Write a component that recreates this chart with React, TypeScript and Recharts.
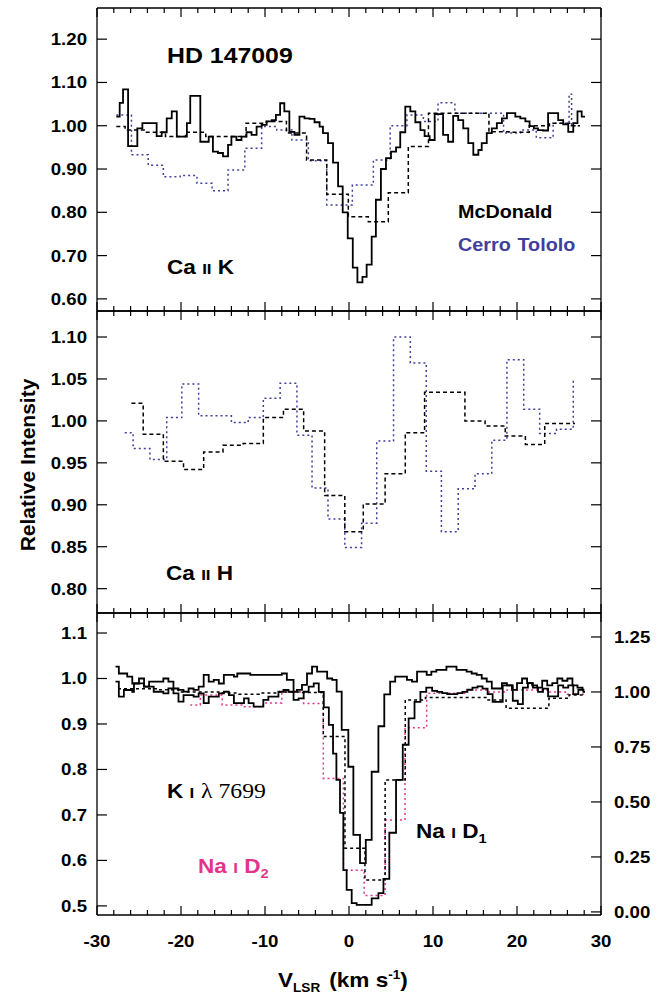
import React from 'react';
import { LineChart, Line, XAxis, YAxis } from 'recharts';

type Pt = [number, number];

// Ca II K, McDonald fine bins (solid)
const caKMcd: Pt[] = [
  [-27.7, 1.021], [-27.3, 1.053], [-26.9, 1.084], [-26.3, 0.953], [-25.2, 0.994], [-24.6, 1.006],
  [-22.9, 0.976], [-22.3, 0.985], [-21.7, 1.017], [-21.1, 1.033], [-20.5, 0.975], [-19.3, 1.006],
  [-18.9, 1.069], [-17.7, 0.963], [-16.7, 0.975], [-16.2, 0.94], [-15.6, 0.937], [-15.0, 0.929],
  [-14.4, 0.956], [-14.0, 0.975], [-13.4, 0.967], [-12.8, 0.975], [-12.2, 0.985], [-11.6, 0.979],
  [-11.0, 0.998], [-10.4, 1.002], [-9.8, 1.01], [-9.2, 1.013], [-8.7, 1.025], [-8.2, 1.052],
  [-7.7, 1.033], [-7.1, 0.986], [-6.5, 0.979], [-5.9, 1.021], [-5.3, 1.017], [-4.7, 1.016],
  [-4.1, 1.008], [-3.5, 0.998], [-3.1, 0.983], [-2.5, 0.96], [-1.9, 0.915], [-1.3, 0.86],
  [-0.75, 0.8], [-0.15, 0.74], [0.45, 0.672], [1.0, 0.638], [1.6, 0.651], [2.1, 0.679],
  [2.7, 0.744], [3.2, 0.829], [3.8, 0.9], [4.4, 0.925], [5.0, 0.94], [5.6, 0.95], [6.1, 0.985],
  [6.7, 1.044], [7.3, 1.033], [7.9, 1.008], [8.5, 0.99], [9.0, 0.976], [9.6, 0.967], [10.2, 1.027],
  [11.2, 0.979], [11.8, 0.963], [12.4, 1.023], [13.0, 1.013], [13.6, 0.994], [14.2, 0.96],
  [14.8, 0.933], [15.4, 0.944], [15.8, 0.96], [16.4, 0.983], [17.0, 0.994], [17.6, 1.006],
  [18.2, 1.017], [18.8, 1.029], [19.8, 1.021], [20.4, 1.017], [21.0, 1.01], [21.5, 0.999],
  [22.0, 0.994], [22.5, 0.99], [23.1, 0.989], [23.7, 1.029], [24.9, 1.013], [25.5, 1.003],
  [26.1, 0.986], [26.7, 1.006], [27.2, 1.033], [27.7, 1.021], [28.1, 1.021],
];

// Ca II K, McDonald coarse bins (dashed)
const caKMcdLo: Pt[] = [
  [-27.7, 0.998], [-26.65, 0.99], [-24.25, 0.985], [-21.85, 0.975], [-19.45, 0.985], [-17.05, 0.975],
  [-14.65, 0.975], [-12.25, 1.006], [-9.85, 1.01], [-7.45, 0.983], [-5.05, 0.921], [-2.65, 0.842],
  [-0.08, 0.79], [2.3, 0.778], [4.68, 0.845], [7.06, 0.952], [9.46, 1.029], [11.86, 1.029],
  [14.26, 1.029], [16.66, 0.986], [19.06, 0.985], [21.46, 1.0], [23.86, 1.006], [26.26, 1.0], [27.5, 1.0],
];

// Ca II K, Cerro Tololo (blue dotted)
const caKCtio: Pt[] = [
  [-27.7, 1.025], [-25.9, 0.933], [-23.9, 0.909], [-22.1, 0.882], [-20.1, 0.885], [-18.1, 0.867],
  [-16.3, 0.85], [-14.4, 0.898], [-12.4, 0.948], [-10.4, 0.998], [-8.6, 0.99], [-6.8, 0.967],
  [-4.84, 0.919], [-2.65, 0.817], [0.4, 0.863], [2.9, 0.921], [4.9, 1.0], [6.9, 1.025], [8.85, 1.01],
  [10.6, 1.053], [12.6, 1.029], [14.5, 1.029], [16.5, 1.029], [18.4, 0.983], [20.4, 0.99],
  [22.3, 0.972], [24.3, 1.006], [26.2, 1.073], [26.5, 1.0], [27.3, 1.0],
];

// Ca II H, McDonald (dashed)
const caHMcd: Pt[] = [
  [-25.9, 1.021], [-24.5, 0.984], [-22.1, 0.952], [-19.7, 0.942], [-17.3, 0.963], [-15.0, 0.971],
  [-12.6, 0.973], [-10.2, 1.004], [-7.8, 1.014], [-5.4, 0.988], [-2.9, 0.911], [-0.5, 0.868],
  [1.7, 0.901], [4.3, 0.937], [6.7, 0.986], [9.0, 1.034], [13.8, 1.0], [16.2, 0.994], [18.6, 0.982],
  [21.0, 0.972], [23.3, 0.997], [26.9, 0.997],
];

// Ca II H, Cerro Tololo (blue dotted)
const caHCtio: Pt[] = [
  [-26.7, 0.986], [-25.7, 0.967], [-23.7, 0.954], [-21.7, 1.004], [-19.9, 1.044], [-17.9, 1.006],
  [-14.0, 0.998], [-12.0, 1.004], [-10.2, 1.027], [-8.2, 1.045], [-6.2, 0.983], [-4.4, 0.92],
  [-2.5, 0.883], [-0.5, 0.849], [1.5, 0.878], [3.3, 0.976], [5.3, 1.1], [7.3, 1.069], [9.2, 0.94],
  [11.0, 0.868], [13.0, 0.919], [15.0, 0.937], [17.0, 0.977], [18.8, 1.073], [20.8, 1.014],
  [22.7, 0.985], [24.7, 0.99], [26.7, 1.049],
];

// K I 7699 (left scale, solid)
const kI: Pt[] = [
  [-27.8, 1.026], [-27.4, 1.011], [-26.4, 1.004], [-25.8, 0.989], [-25.0, 1.0], [-24.4, 0.982],
  [-23.8, 0.993], [-22.1, 1.0], [-21.5, 0.993], [-20.9, 0.978], [-20.3, 0.975], [-19.7, 0.971],
  [-19.1, 0.978], [-18.5, 0.975], [-17.9, 0.982], [-17.3, 1.008], [-16.7, 0.993], [-16.1, 0.997],
  [-15.5, 0.989], [-14.9, 1.008], [-13.7, 1.004], [-13.3, 1.011], [-11.75, 1.008], [-8.0, 1.011],
  [-7.4, 0.997], [-6.6, 0.971], [-6.2, 0.975], [-5.6, 0.986], [-5.0, 1.011], [-4.4, 1.026],
  [-3.8, 1.015], [-2.6, 1.0], [-2.0, 0.997], [-1.47, 0.971], [-0.87, 0.887], [-0.08, 0.806],
  [0.52, 0.656], [1.31, 0.594], [2.0, 0.645], [2.7, 0.795], [3.5, 0.895], [4.2, 0.965], [4.9, 0.993],
  [5.5, 1.004], [6.9, 0.997], [7.5, 0.993], [8.1, 1.015], [9.25, 1.008], [9.8, 1.015], [10.4, 1.019],
  [11.6, 1.026], [12.8, 1.019], [14.0, 1.015], [14.6, 1.011], [15.2, 1.008], [15.8, 1.0], [16.4, 0.993],
  [17.0, 0.978], [18.2, 0.99], [18.8, 0.985], [19.4, 0.975], [20.0, 0.99], [20.6, 1.0], [21.2, 0.99],
  [21.8, 0.985], [22.4, 0.98], [23.0, 0.995], [23.6, 0.985], [24.2, 0.99], [24.8, 1.0], [25.4, 0.995],
  [26.0, 1.0], [26.6, 0.985], [27.2, 0.98], [27.8, 0.975], [28.0, 0.975],
];

// Na I D1, fine bins (right scale, solid)
const naD1: Pt[] = [
  [-27.8, 1.047], [-27.4, 0.979], [-26.8, 1.009], [-25.8, 1.001], [-25.6, 1.039], [-24.4, 1.024],
  [-23.25, 1.001], [-22.1, 0.994], [-21.5, 1.016], [-20.9, 0.994], [-20.3, 0.956], [-19.7, 0.986],
  [-18.5, 0.979], [-17.9, 0.994], [-17.3, 0.949], [-16.7, 0.979], [-15.5, 0.994], [-14.9, 1.001],
  [-14.3, 0.986], [-13.7, 0.949], [-12.5, 0.971], [-11.95, 0.949], [-11.35, 0.933], [-10.2, 0.964],
  [-9.6, 0.979], [-8.4, 1.001], [-7.8, 1.009], [-7.2, 1.001], [-6.6, 0.964], [-6.0, 0.971],
  [-5.4, 1.001], [-4.8, 1.024], [-4.2, 1.039], [-3.6, 1.0], [-3.0, 0.93], [-2.4, 0.85], [-1.9, 0.72],
  [-1.5, 0.6], [-1.07, 0.45], [-0.67, 0.19], [-0.28, 0.1], [0.32, 0.04], [0.91, 0.032], [2.7, 0.062],
  [3.5, 0.085], [4.1, 0.15], [4.8, 0.36], [5.6, 0.6], [6.4, 0.76], [7.1, 0.88], [7.8, 0.955],
  [8.5, 1.0], [9.2, 1.02], [9.9, 1.005], [10.5, 1.0], [11.1, 0.995], [11.7, 0.99], [12.9, 0.995],
  [13.5, 1.0], [14.1, 1.01], [14.7, 1.02], [15.3, 1.025], [15.9, 1.015], [16.5, 0.99], [17.1, 0.955],
  [18.3, 1.03], [19.5, 0.96], [20.1, 0.945], [20.7, 1.02], [21.3, 1.04], [21.9, 1.02], [22.5, 1.0],
  [23.1, 1.015], [23.7, 0.98], [24.9, 1.03], [25.5, 1.02], [26.1, 1.03], [26.7, 0.99], [27.3, 1.01],
  [27.9, 1.0], [28.1, 1.0],
];

// Na I D1, coarse bins (right scale, dashed)
const naD1Lo: Pt[] = [
  [-27.5, 1.015], [-25.1, 1.015], [-22.7, 1.01], [-20.3, 1.0], [-17.9, 1.0], [-15.5, 0.995],
  [-13.1, 0.99], [-10.7, 0.995], [-8.3, 1.0], [-5.9, 0.998], [-3.06, 0.797], [-0.48, 0.29],
  [1.9, 0.145], [4.3, 0.6], [6.7, 0.964], [9.1, 0.975], [11.5, 0.975], [13.9, 0.975], [16.3, 0.964],
  [18.7, 0.926], [21.1, 0.926], [23.8, 0.971], [26.2, 0.986], [28.0, 0.986],
];

// Na I D2 (right scale, pink dotted)
const naD2: Pt[] = [
  [-18.9, 0.941], [-17.7, 0.986], [-15.1, 0.941], [-12.6, 0.933], [-10.2, 0.95], [-8.0, 1.0],
  [-5.4, 0.948], [-3.06, 0.607], [-0.67, 0.19], [1.8, 0.075], [4.3, 0.418], [6.67, 0.837],
  [9.25, 0.994], [11.6, 0.994], [14.0, 1.009], [16.4, 1.0], [18.8, 1.009], [21.2, 1.009],
  [23.6, 1.0], [26.0, 0.99], [28.0, 0.99],
];

const xTicks = [-30, -28, -26, -24, -22, -20, -18, -16, -14, -12, -10, -8, -6, -4, -2, 0,
  2, 4, 6, 8, 10, 12, 14, 16, 18, 20, 22, 24, 26, 28, 30];
const caKTicks = [0.6, 0.7, 0.8, 0.9, 1.0, 1.1, 1.2];
const caHTicks = [0.8, 0.85, 0.9, 0.95, 1.0, 1.05, 1.1];
const kTicks = [0.5, 0.6, 0.7, 0.8, 0.9, 1.0, 1.1];
const naTicks = [0, 0.25, 0.5, 0.75, 1.0, 1.25];

const FONT = '"Liberation Sans", Arial, Helvetica, sans-serif';
const SERIF = '"Liberation Serif", "Times New Roman", serif';
const SX = 1.13;
const BLUE = '#3f3f9c';
const PINK = '#e2358a';

function XTick(props: any) {
  const { x, y, payload, side, labels } = props;
  const major = payload.value % 10 === 0;
  const dir = side === 'top' ? 1 : -1;
  return (
    <g>
      <line x1={x} y1={y} x2={x} y2={y + dir * (major ? 9 : 5)} stroke="#000" strokeWidth={1.2} />
      {labels && major && (
        <text transform={`translate(${x},${y + 32}) scale(${SX},1)`} textAnchor="middle"
          fontFamily={FONT} fontWeight="bold" fontSize={16.5} fill="#000">
          {payload.value}
        </text>
      )}
    </g>
  );
}

function YTick(props: any) {
  const { x, y, payload, side, labels, digits } = props;
  const left = side === 'left';
  return (
    <g>
      <line x1={x} y1={y} x2={x + (left ? 10 : -10)} y2={y} stroke="#000" strokeWidth={1.2} />
      {labels && (
        <text transform={`translate(${left ? x - 10 : x + 13},${y + 6}) scale(${SX},1)`}
          textAnchor={left ? 'end' : 'start'} fontFamily={FONT} fontWeight="bold" fontSize={16.5} fill="#000">
          {Number(payload.value).toFixed(digits)}
        </text>
      )}
    </g>
  );
}

type Series = { data: Pt[]; color: string; width: number; dash?: string; axis: 'l' | 'r' };

function Panel(p: {
  top: number; bottom: number;
  lDomain: number[]; lTicks: number[]; lDigits: number;
  rDomain: number[]; rTicks: number[]; rLabels: boolean;
  series: Series[]; xLabels: boolean;
}) {
  const bottomH = p.xLabels ? 40 : 10;
  const height = p.bottom - p.top + 20 + bottomH + 10;
  const axisLine = { stroke: '#000', strokeWidth: 1.3 };
  return (
    <div style={{ position: 'absolute', left: 0, top: p.top - 20 }}>
      <LineChart width={665} height={height} margin={{ top: 10, right: 4, bottom: 10, left: 37 }}>
        <XAxis xAxisId="b" type="number" dataKey="v" domain={[-30, 30]} allowDataOverflow ticks={xTicks}
          interval={0} height={bottomH} tickSize={0} tickMargin={0} tickLine={false} axisLine={axisLine}
          tick={<XTick side="bottom" labels={p.xLabels} />} />
        <XAxis xAxisId="t" orientation="top" type="number" dataKey="v" domain={[-30, 30]} allowDataOverflow
          ticks={xTicks} interval={0} height={10} tickSize={0} tickMargin={0} tickLine={false}
          axisLine={axisLine} tick={<XTick side="top" labels={false} />} />
        <YAxis yAxisId="l" type="number" domain={p.lDomain} allowDataOverflow ticks={p.lTicks} interval={0}
          width={60} tickSize={0} tickMargin={0} tickLine={false} axisLine={axisLine}
          tick={<YTick side="left" labels digits={p.lDigits} />} />
        <YAxis yAxisId="r" orientation="right" type="number" domain={p.rDomain} allowDataOverflow
          ticks={p.rTicks} interval={0} width={60} tickSize={0} tickMargin={0} tickLine={false}
          axisLine={axisLine} tick={<YTick side="right" labels={p.rLabels} digits={2} />} />
        {p.series.map((s, i) => (
          <Line key={i} xAxisId="b" yAxisId={s.axis} data={s.data.map(([v, y]) => ({ v, y }))} dataKey="y"
            type="stepAfter" stroke={s.color} strokeWidth={s.width} strokeDasharray={s.dash}
            dot={false} activeDot={false} isAnimationActive={false} />
        ))}
      </LineChart>
    </div>
  );
}

export default function App() {
  const caKDom = [0.572, 1.272];
  const caHDom = [0.771, 1.131];
  return (
    <div style={{ position: 'absolute', left: 0, top: 0, width: 665, height: 994, background: '#fff' }}>
      <Panel top={8} bottom={311} lDomain={caKDom} lTicks={caKTicks} lDigits={2}
        rDomain={caKDom} rTicks={caKTicks} rLabels={false} xLabels={false}
        series={[
          { data: caKCtio, color: BLUE, width: 1.5, dash: '2 3', axis: 'l' },
          { data: caKMcdLo, color: '#000', width: 1.5, dash: '4 3', axis: 'l' },
          { data: caKMcd, color: '#000', width: 1.8, axis: 'l' },
        ]} />
      <Panel top={311} bottom={613} lDomain={caHDom} lTicks={caHTicks} lDigits={2}
        rDomain={caHDom} rTicks={caHTicks} rLabels={false} xLabels={false}
        series={[
          { data: caHCtio, color: BLUE, width: 1.5, dash: '2 3', axis: 'l' },
          { data: caHMcd, color: '#000', width: 1.5, dash: '4 3', axis: 'l' },
        ]} />
      <Panel top={613} bottom={915} lDomain={[0.48, 1.144]} lTicks={kTicks} lDigits={1}
        rDomain={[-0.014, 1.359]} rTicks={naTicks} rLabels xLabels
        series={[
          { data: naD2, color: PINK, width: 1.5, dash: '2 3', axis: 'r' },
          { data: naD1Lo, color: '#000', width: 1.5, dash: '3 3', axis: 'r' },
          { data: naD1, color: '#000', width: 1.8, axis: 'r' },
          { data: kI, color: '#000', width: 1.8, axis: 'l' },
        ]} />
      <svg width={665} height={994} style={{ position: 'absolute', left: 0, top: 0, pointerEvents: 'none' }}
        fontFamily={FONT} fontWeight="bold">
        <text transform={`translate(167,63) scale(${SX},1)`} fontSize={22}>HD 147009</text>
        <text transform={`translate(167,274) scale(${SX},1)`} fontSize={20}>
          Ca <tspan fontSize={15}>II</tspan> K
        </text>
        <text transform={`translate(458,218) scale(${SX},1)`} fontSize={17.5}>McDonald</text>
        <text transform={`translate(458,251) scale(${SX},1)`} fontSize={17.5} fill={BLUE}>
          Cerro<tspan dx={6}>Tololo</tspan>
        </text>
        <text transform={`translate(166,580) scale(${SX},1)`} fontSize={20}>
          Ca <tspan fontSize={15}>II</tspan> H
        </text>
        <text transform={`translate(167,798) scale(${SX},1)`} fontSize={20}>
          K <tspan fontSize={15}>I</tspan>
          <tspan fontFamily={SERIF} fontWeight="normal" fontSize={21} dx={6}>λ 7699</tspan>
        </text>
        <text transform={`translate(198,873) scale(${SX},1)`} fontSize={20} fill={PINK}>
          Na <tspan fontSize={15}>I</tspan> D<tspan fontSize={13} dy={5}>2</tspan>
        </text>
        <text transform={`translate(416,838) scale(${SX},1)`} fontSize={20}>
          Na <tspan fontSize={15}>I</tspan> D<tspan fontSize={13} dy={5}>1</tspan>
        </text>
        <text transform="translate(35,465) rotate(-90)" textAnchor="middle" fontSize={21}>Relative Intensity</text>
        <text transform={`translate(278,987) scale(${SX},1)`} fontSize={20}>
          V<tspan fontSize={12} dy={5}>LSR</tspan>
          <tspan dy={-5} dx={8}>(km s</tspan>
          <tspan fontSize={12} dy={-8}>-1</tspan>
          <tspan dy={8}>)</tspan>
        </text>
      </svg>
    </div>
  );
}
